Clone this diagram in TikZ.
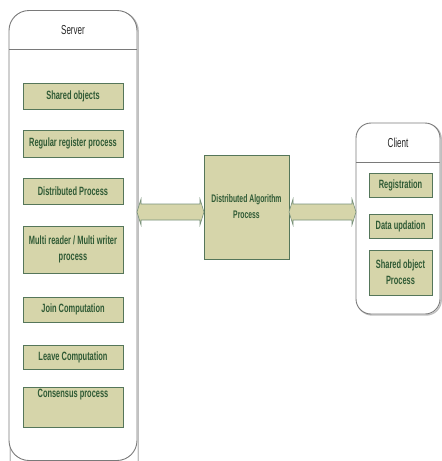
\documentclass[tikz,border=0pt]{standalone}
\usepackage{fontspec}
\setmainfont{Liberation Sans}
\newfontfamily\narrowfont[FakeStretch=0.62]{Liberation Sans}
\usetikzlibrary{calc}
\definecolor{boxfill}{HTML}{D6D5AA}
\definecolor{boxline}{HTML}{55765A}
\definecolor{boxtext}{HTML}{2F5A35}
\definecolor{frameline}{HTML}{7A7A7A}
\tikzset{
  every node/.style={inner sep=0pt, outer sep=0pt},
  procbox/.style={draw=boxline, line width=0.9pt, fill=boxfill, text=boxtext,
    font=\narrowfont\bfseries\fontsize{12}{13}\selectfont, align=center},
  frame/.style={draw=frameline, line width=0.9pt, fill=white},
  frameshadow/.style={draw=black!25, line width=1.4pt},
  title/.style={font=\narrowfont\fontsize{13}{15}\selectfont, text=black!85},
  blockarrow/.style={fill=boxfill, draw=boxline!80, line width=0.6pt},
}
\begin{document}
\begin{tikzpicture}[x=1pt,y=-1pt]
\useasboundingbox (0,0) rectangle (442,461);
% containers (invisible anchor nodes)
\node (srv) at (73,235.5) [minimum width=128pt, minimum height=450pt] {};
\node (cli) at (398,218.5) [minimum width=84pt, minimum height=191pt] {};
% server frame
\draw[frameshadow, rounded corners=20pt] ($(srv.south west)+(1.2,0.8)$) -- ($(srv.north west)+(1.2,1)$) -- ($(srv.north east)+(1.2,1)$) -- ($(srv.south east)+(1.2,0.8)$);
\draw[frame, rounded corners=20pt] (srv.south west) -- (srv.north west) -- (srv.north east) -- (srv.south east) -- cycle;
\coordinate (shl) at (9,49);
\draw[frameline, line width=0.9pt] (shl) -- (shl -| srv.east);
\node[title] (srvt) at (73,30) {Server};
% client frame
\draw[frameshadow, rounded corners=15pt] ($(cli.south west)+(1.2,1)$) -- ($(cli.north west)+(1.2,1)$) -- ($(cli.north east)+(1.2,1)$) -- ($(cli.south east)+(1.2,1)$) -- cycle;
\draw[frame, rounded corners=15pt] (cli.south west) -- (cli.north west) -- (cli.north east) -- (cli.south east) -- cycle;
\coordinate (chl) at (356,162);
\draw[frameline, line width=0.9pt] (chl) -- (chl -| cli.east);
\node[title] (clit) at (398,143) {Client};
% server boxes
\node[procbox, minimum width=100pt, minimum height=26pt] (b1) at (73,96) {Shared objects};
\node[procbox, minimum width=100pt, minimum height=27pt] (b2) at (73,143.5) {Regular register process};
\node[procbox, minimum width=100pt, minimum height=26pt] (b3) at (73,191) {Distributed Process};
\node[procbox, minimum width=100pt, minimum height=47pt] (b4) at (73,249.5) {Multi reader / Multi writer\\[3pt]process};
\node[procbox, minimum width=100pt, minimum height=25pt] (b5) at (73,309.5) {Join Computation};
\node[procbox, minimum width=100pt, minimum height=24pt] (b6) at (73,357) {Leave Computation};
\node[procbox, minimum width=100pt, minimum height=40pt] (b7) at (73,407) {};
\node[procbox, draw=none, fill=none] (b7t) at (73,395) {Consensus process};
% central box
\node[procbox, minimum width=85pt, minimum height=104pt, font=\narrowfont\bfseries\fontsize{11}{12}\selectfont] (dap) at (246.5,207) {Distributed Algorithm\\[4pt]Process};
% client boxes
\node[procbox, minimum width=63pt, minimum height=24pt] (c1) at (400.5,185) {Registration};
\node[procbox, minimum width=63pt, minimum height=24pt] (c2) at (400.5,226) {Data updation};
\node[procbox, minimum width=63pt, minimum height=45pt] (c3) at (400.5,272.5) {Shared object\\[3pt]Process};
% block arrows
\coordinate (ay) at (0,212);
\path let \p1 = (srv.east |- ay), \p2 = (dap.west |- ay) in
  [blockarrow] (\x1,\y1) -- ($(\x1,\y1)+(4,-13)$) -- ($(\x1,\y1)+(4,-8)$) -- ($(\x2,\y2)+(-4,-8)$) -- ($(\x2,\y2)+(-4,-13)$) -- (\x2,\y2)
  -- ($(\x2,\y2)+(-4,13)$) -- ($(\x2,\y2)+(-4,8)$) -- ($(\x1,\y1)+(4,8)$) -- ($(\x1,\y1)+(4,13)$) -- cycle;
\path let \p1 = (dap.east |- ay), \p2 = (cli.west |- ay) in
  [blockarrow] (\x1,\y1) -- ($(\x1,\y1)+(4,-13)$) -- ($(\x1,\y1)+(4,-8)$) -- ($(\x2,\y2)+(-4,-8)$) -- ($(\x2,\y2)+(-4,-13)$) -- (\x2,\y2)
  -- ($(\x2,\y2)+(-4,13)$) -- ($(\x2,\y2)+(-4,8)$) -- ($(\x1,\y1)+(4,8)$) -- ($(\x1,\y1)+(4,13)$) -- cycle;
\end{tikzpicture}
\end{document}
